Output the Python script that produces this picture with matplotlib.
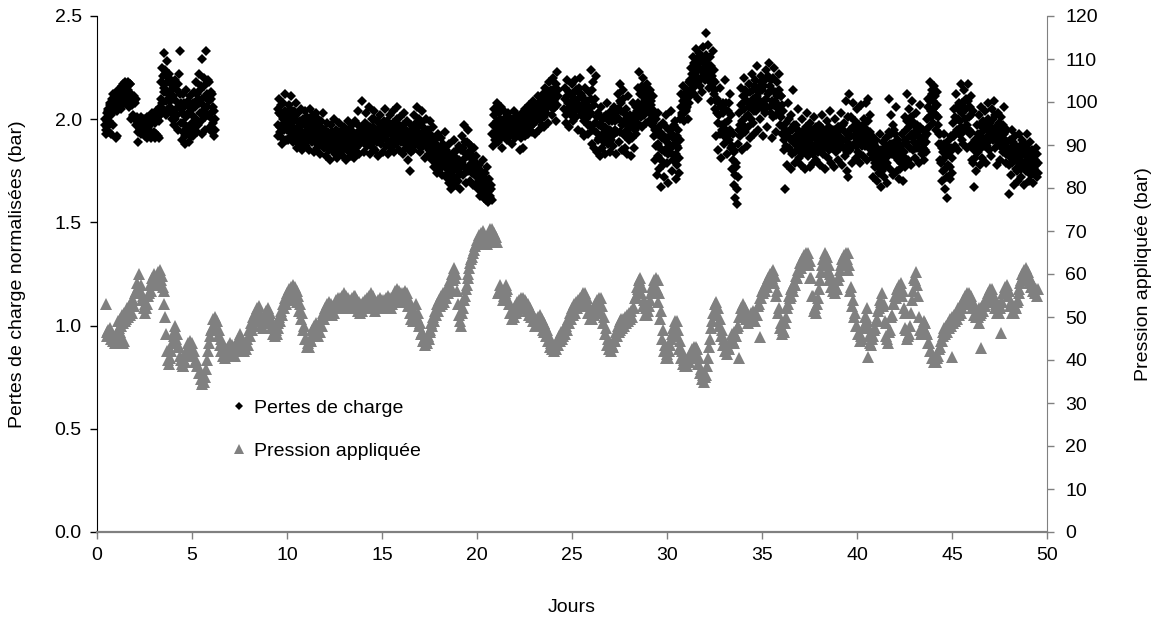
import numpy as np
import matplotlib
matplotlib.use("Agg")
import matplotlib.pyplot as plt
from matplotlib.lines import Line2D

plt.rcParams['font.family'] = ['Liberation Sans', 'DejaVu Sans']

# ---------------- Data ----------------
# Pertes de charge normalisées (bar), two interleaved reading sets, each every 0.05 day
pas_pertes = 0.05
pertes_debut_1 = 0.40
pertes_1 = [
    1.97, 1.95, 2.03, 1.96, 2.05, 1.99, 2.08, 1.93, 2.06, 2.12, 2.04, 2.08,
    2.06, 1.92, 2.07, 2.12, 2.08, 2.15, 2.07, 2.17, 2.09, 2.18, 2.09, 2.17, 2.10, 2.18, 2.10, 2.17, 2.00, 2.10, 2.01, 2.11,
    2.00, 2.10, 1.99, 1.89, 2.00, 1.95, 2.01, 1.94, 1.99, 1.93, 2.00, 1.92, 1.99, 1.91, 2.00, 1.92, 2.01, 1.91, 2.03, 1.92,
    2.00, 1.91, 2.04, 1.92, 2.01, 1.91, 2.02, 2.10, 2.25, 2.05, 2.32, 2.15, 2.22, 2.02, 2.28, 2.12, 2.20, 2.06, 2.17, 2.00,
    2.10, 1.97, 2.19, 2.05, 2.14, 1.95, 2.22, 2.33, 2.08, 1.90, 2.12, 1.98, 2.06, 1.88, 2.14, 1.93, 2.03, 1.89, 2.11, 1.96,
    2.05, 1.92, 2.13, 1.98, 2.18, 1.94, 2.10, 2.22, 2.03, 2.16, 1.93, 2.29, 2.07, 2.20, 1.95, 2.33, 2.12, 2.02, 2.18, 1.96,
    2.10, 1.94, 2.06, 1.92, 2.00,
]
pertes_debut_1b = 0.425
pertes_1b = [
    2.00, 1.93, 1.99, 2.04, 1.94, 2.07, 2.02, 2.10, 1.97, 2.05, 2.09, 1.91,
    2.10, 2.04, 2.14, 2.09, 2.12, 2.05, 2.16, 2.10, 2.13, 2.08, 2.16, 2.11, 2.14, 2.06, 2.17, 2.12, 2.07, 2.02, 2.09, 2.00,
    2.08, 1.97, 2.01, 1.94, 1.98, 2.00, 1.93, 1.97, 2.00, 1.95, 1.98, 1.94, 2.01, 1.96, 1.92, 1.99, 1.94, 1.98, 1.93, 2.00,
    1.94, 1.98, 1.93, 2.00, 1.92, 1.99, 2.06, 2.18, 2.08, 2.21, 2.13, 2.24, 2.09, 2.18, 2.05, 2.22, 2.09, 2.14, 2.03, 2.11,
    2.04, 2.15, 2.00, 2.09, 2.02, 2.17, 2.06, 2.12, 1.98, 2.03, 1.94, 2.08, 1.92, 2.01, 1.96, 2.09, 1.95, 2.06, 1.92, 2.02,
    1.98, 2.08, 1.95, 2.06, 2.00, 2.12, 1.97, 2.08, 2.14, 1.99, 2.10, 2.04, 2.16, 2.01, 2.11, 2.06, 2.19, 2.09, 2.01, 2.13,
    2.03, 2.12, 1.98, 2.04, 1.95,
]
pertes_debut_2 = 9.50
pertes_2 = [
    2.05, 1.92, 2.10, 1.96, 2.02, 1.88, 2.08, 1.95, 2.12, 1.90,
    2.00, 1.90, 2.07, 1.94, 2.11, 1.98, 1.89, 2.04, 1.93, 2.08, 1.86, 1.99, 2.03, 1.88, 1.96, 2.05, 1.85, 1.98, 1.92, 2.04,
    1.87, 2.01, 1.93, 1.85, 2.05, 1.96, 1.89, 2.02, 1.84, 1.97, 2.03, 1.90, 1.86, 2.00, 1.94, 1.83, 1.99, 1.91, 2.03, 1.86,
    1.95, 1.82, 1.98, 1.88, 1.92, 1.80, 1.97, 1.85, 1.93, 2.00, 1.83, 1.90, 1.95, 1.81, 1.87, 1.98, 1.84, 1.93, 1.89, 1.82,
    1.96, 1.86, 1.80, 1.94, 1.99, 1.84, 1.91, 1.82, 1.97, 1.88, 1.93, 1.81, 1.99, 1.86, 1.92, 2.04, 1.83, 1.95, 1.89, 2.09,
    1.90, 1.84, 1.98, 2.03, 1.87, 1.95, 2.06, 1.83, 1.93, 2.00, 1.86, 1.96, 2.04, 1.85, 1.91, 1.99, 1.82, 1.94, 2.02, 1.88,
    1.97, 1.84, 1.92, 2.05, 1.87, 1.99, 1.83, 1.94, 2.02, 1.86, 1.96, 1.90, 2.04, 1.84, 1.98, 1.88, 2.06, 1.93, 1.85, 2.01,
    1.89, 1.96, 1.83, 2.03, 1.91, 1.86, 1.99, 1.80, 1.94, 1.75, 1.88, 1.97, 1.92, 1.85, 2.02, 1.95, 1.88, 2.06, 1.90, 2.00,
    1.84, 1.98, 2.04, 1.87, 1.93, 1.81, 2.00, 1.89, 1.95, 1.83, 1.99, 1.86, 1.92, 1.80, 1.96, 1.77, 1.90, 1.85, 1.74, 1.93,
    1.82, 1.76, 1.91, 1.73, 1.86, 1.79, 1.94, 1.72, 1.84, 1.78, 1.69, 1.88, 1.75, 1.66, 1.82, 1.71, 1.90, 1.68, 1.79, 1.85,
    1.70, 1.87, 1.66, 1.78, 1.92, 1.73, 1.97, 1.81, 1.69, 1.89, 1.75, 1.95, 1.84, 1.70, 1.87, 1.79, 1.68, 1.86, 1.74, 1.82,
    1.72, 1.66, 1.78, 1.63, 1.75, 1.69, 1.80, 1.62, 1.74, 1.61, 1.77, 1.65, 1.60, 1.71, 1.62, 1.66, 1.93, 1.87, 2.02, 1.90,
    1.98, 2.08, 1.89, 2.03, 1.94, 2.06, 1.86, 1.99, 2.04, 1.92, 2.01, 1.95, 1.90, 2.03, 1.97, 1.93, 2.00, 1.88, 1.96, 2.04,
    1.91, 1.98, 2.02, 1.93, 1.99, 1.85, 1.94, 2.03, 1.86, 1.97, 1.92, 2.05, 1.95, 2.00, 1.93, 2.07, 1.96, 2.02, 1.94, 2.09,
    1.98, 1.93, 2.06, 2.00, 2.11, 1.95, 2.04, 2.09, 1.97, 2.12, 2.01, 1.96, 2.15, 2.05, 2.10, 1.98, 2.18, 2.07, 2.13, 2.02,
    2.20, 2.09, 2.15, 1.99, 2.23, 2.11,
]
pertes_debut_2b = 9.525
pertes_2b = [
    1.97, 2.03, 1.94, 2.07, 1.91, 2.00, 1.98, 2.04, 1.96, 2.02,
    1.95, 2.02, 1.97, 2.05, 1.92, 2.01, 1.96, 1.91, 2.00, 1.95, 1.93, 1.90, 1.96, 1.99, 1.91, 1.94, 2.00, 1.91, 1.97, 1.89,
    1.94, 1.91, 1.98, 1.95, 1.90, 1.93, 1.99, 1.94, 1.92, 1.89, 1.95, 1.98, 1.93, 1.90, 1.88, 1.96, 1.92, 1.87, 1.95, 1.91,
    1.89, 1.92, 1.86, 1.94, 1.85, 1.90, 1.88, 1.94, 1.87, 1.91, 1.93, 1.86, 1.89, 1.92, 1.94, 1.89, 1.91, 1.85, 1.95, 1.90,
    1.88, 1.92, 1.94, 1.87, 1.90, 1.95, 1.86, 1.93, 1.89, 1.94, 1.85, 1.91, 1.93, 1.89, 1.97, 1.92, 1.88, 1.91, 1.96, 1.94,
    1.95, 1.91, 1.93, 1.89, 1.97, 1.90, 1.92, 1.96, 1.88, 1.94, 1.91, 2.00, 1.93, 1.95, 1.89, 1.93, 1.98, 1.89, 1.96, 1.93,
    1.91, 1.95, 1.99, 1.92, 1.94, 1.90, 1.96, 1.89, 1.97, 1.93, 1.89, 1.98, 1.94, 1.91, 1.95, 2.00, 1.92, 1.97, 1.90, 1.94,
    1.93, 1.90, 1.97, 1.92, 1.88, 1.95, 1.91, 1.86, 1.89, 1.93, 1.84, 1.91, 1.87, 1.94, 1.90, 1.98, 1.93, 1.96, 1.87, 1.93,
    1.91, 1.93, 1.88, 1.96, 1.90, 1.94, 1.87, 1.92, 1.89, 1.85, 1.93, 1.88, 1.83, 1.90, 1.85, 1.88, 1.82, 1.79, 1.87, 1.80,
    1.86, 1.81, 1.84, 1.79, 1.88, 1.83, 1.77, 1.85, 1.80, 1.74, 1.82, 1.76, 1.80, 1.73, 1.77, 1.84, 1.76, 1.81, 1.72, 1.77,
    1.76, 1.80, 1.74, 1.85, 1.79, 1.86, 1.77, 1.89, 1.83, 1.76, 1.82, 1.88, 1.78, 1.83, 1.74, 1.80, 1.77, 1.73, 1.79, 1.76,
    1.69, 1.74, 1.67, 1.71, 1.65, 1.70, 1.66, 1.72, 1.67, 1.70, 1.64, 1.69, 1.65, 1.63, 1.68, 1.61, 1.97, 2.05, 1.94, 1.98,
    1.93, 1.99, 1.96, 1.90, 2.00, 1.93, 1.97, 1.92, 1.96, 1.99, 1.94, 1.99, 1.96, 1.92, 1.99, 1.96, 1.93, 2.00, 1.92, 1.97,
    1.95, 1.92, 1.96, 1.99, 1.94, 1.97, 1.91, 1.98, 1.95, 2.01, 1.96, 1.98, 1.93, 2.03, 1.98, 1.99, 2.04, 1.97, 2.06, 2.00,
    2.04, 2.02, 1.99, 2.05, 2.03, 2.08, 2.00, 2.03, 2.06, 2.04, 2.08, 2.06, 2.03, 2.09, 2.13, 2.07, 2.11, 2.14, 2.06, 2.10,
    2.05, 2.13, 2.06, 2.17, 2.07, 2.14,
]
pertes_debut_3 = 24.60
pertes_3 = [
    2.05, 2.15, 1.98, 2.19, 2.08, 1.96, 2.12, 2.03,
    2.17, 1.99, 2.10, 2.19, 2.01, 2.14, 1.95, 2.07, 2.20, 2.02, 1.94, 2.11, 2.05, 1.92, 2.15, 2.00, 2.09, 1.93, 2.13, 1.97,
    2.24, 1.88, 2.18, 1.86, 2.10, 2.21, 1.84, 2.03, 1.91, 1.82, 1.97, 2.06, 1.86, 1.93, 2.01, 1.83, 1.95, 2.08, 1.88, 1.99,
    1.84, 2.04, 1.92, 1.87, 2.06, 1.95, 1.83, 2.00, 2.12, 1.89, 2.17, 1.94, 2.08, 1.85, 2.14, 1.98, 1.86, 2.05, 1.83, 2.11,
    1.90, 2.02, 1.82, 1.96, 2.08, 1.86, 2.00, 1.93, 2.04, 2.15, 1.97, 2.23, 2.06, 2.12, 1.96, 2.20, 2.02, 2.10, 1.98, 2.17,
    2.05, 1.99, 2.14, 2.07, 1.97, 2.11, 1.92, 1.80, 2.00, 1.73, 1.88, 2.03, 1.76, 1.94, 1.67, 1.85, 1.98, 1.72, 1.90, 2.02,
    1.79, 1.69, 1.95, 1.84, 2.04, 1.75, 1.91, 1.82, 1.99, 1.71, 1.87, 1.78, 1.95, 1.74, 2.00, 2.12, 2.03, 2.16, 1.99, 2.10,
    2.05, 2.14, 2.00, 2.18, 2.11, 2.25, 2.15, 2.30, 2.12, 2.21, 2.34, 2.17, 2.26, 2.10, 2.32, 2.19, 2.24, 2.13, 2.35, 2.20,
    2.28, 2.42, 2.23, 2.36, 2.15, 2.30, 2.09, 2.21, 2.33, 2.12, 2.05, 2.18, 1.92, 2.10, 1.85, 2.02, 2.15, 1.81, 1.97, 2.08,
    1.88, 2.19, 1.95, 1.83, 2.04, 1.90, 2.12, 1.86, 1.76, 1.93, 1.68, 1.84, 1.62, 1.79, 1.59, 1.88, 2.03, 1.92, 2.15, 1.85,
    2.08, 2.20, 1.94, 2.12, 1.87, 2.02, 2.17, 1.91, 2.06, 2.22, 1.98, 2.10, 1.93, 2.19, 2.04, 2.26, 1.95, 2.13, 2.00, 2.21,
    2.08, 1.92, 2.16, 2.03, 2.24, 1.96, 2.12, 2.27, 2.06, 2.19, 1.91, 2.14, 2.01, 2.25, 2.09, 1.94, 2.18, 2.05, 2.22, 1.97,
    2.11, 1.93, 2.04, 1.85, 1.66, 1.98, 1.78, 2.08, 1.86, 1.95, 1.76, 2.02, 1.83, 2.14, 1.90, 1.79, 1.97, 1.87, 2.05, 1.81,
    1.93, 1.78, 2.00, 1.86, 1.95, 1.76, 1.89, 2.03, 1.82, 1.92, 1.77, 1.98, 1.85, 1.91, 1.79, 2.01, 1.87, 1.80, 1.94, 1.84,
    1.97, 1.78, 1.90, 2.02, 1.83, 1.94, 1.76, 1.88, 1.99, 1.81, 1.92, 1.85, 2.04, 1.79, 1.95, 1.87, 1.77, 2.00, 1.84, 1.91,
    1.80, 1.96, 1.86, 2.03, 1.78, 1.90, 1.98, 1.82, 2.09, 1.75, 1.93, 1.72, 2.12, 1.85, 2.01, 1.79, 2.08, 1.88, 1.96, 1.81,
    2.05, 1.84, 1.97, 1.79, 2.07, 1.90, 1.82, 2.00, 1.87, 2.08, 1.80, 1.95, 2.10, 1.86, 2.02, 1.83, 1.92, 1.72, 1.88, 1.77,
    1.90, 1.70, 1.84, 1.74, 1.93, 1.67, 1.81, 1.89, 1.72, 1.86, 1.78, 1.91, 1.69, 1.85, 2.10, 1.76, 2.02, 1.88, 1.73, 1.95,
    1.82, 2.06, 1.75, 1.90, 1.71, 1.86, 1.79, 1.93, 1.70, 1.84, 1.77, 2.01, 1.89, 2.12, 1.80, 2.05, 1.92, 1.78, 2.09, 1.85,
    1.97, 1.81, 2.03, 1.88, 1.94, 1.79, 2.07, 1.90, 1.83, 1.95, 1.80, 1.88, 1.92, 1.84, 2.00, 2.10, 1.96, 2.18, 2.04, 2.12,
    1.98, 2.16, 2.06, 1.95, 2.13, 2.01, 1.93, 1.80, 1.88, 1.70, 1.84, 1.75, 1.93, 1.66, 1.82, 1.62, 1.78, 1.90, 1.71, 1.86,
    1.74, 1.92, 2.05, 1.87, 2.12, 1.95, 1.85, 2.08, 1.99, 2.17, 1.90, 2.03, 1.88, 2.14, 1.96, 2.10, 1.86, 2.17, 2.01, 1.93,
    2.11, 1.80, 2.04, 1.67, 1.90, 1.75, 1.97, 1.84, 2.02, 1.78, 1.92, 2.06, 1.81, 1.99, 1.87, 2.04, 1.79, 1.95, 2.08, 1.85,
    1.98, 1.82, 2.05, 1.90, 2.09, 1.86, 1.96, 1.78, 2.03, 1.88, 1.94, 1.80, 2.01, 1.91, 1.84, 2.06, 1.87, 1.79, 1.95, 1.86,
    1.64, 1.90, 1.73, 1.95, 1.80, 1.68, 1.92, 1.76, 1.85, 1.70, 1.93, 1.79, 1.87, 1.72, 1.90, 1.83, 1.68, 1.88, 1.75, 1.93,
    1.81, 1.70, 1.89, 1.77, 1.85, 1.69, 1.82, 1.74, 1.86, 1.72, 1.79,
]
pertes_debut_3b = 24.625
pertes_3b = [
    2.10, 2.02, 2.11, 2.04, 2.13, 2.06, 2.02, 2.09,
    2.06, 2.12, 2.04, 2.08, 2.14, 2.05, 2.10, 2.15, 2.06, 2.12, 2.03, 2.07, 1.99, 2.09, 2.02, 2.07, 1.97, 2.05, 2.02, 2.10,
    2.03, 2.14, 1.95, 2.07, 1.98, 1.94, 2.01, 1.90, 1.97, 2.01, 1.92, 1.96, 2.00, 1.89, 1.96, 2.02, 1.91, 1.95, 2.01, 1.93,
    1.95, 1.90, 1.99, 2.01, 1.93, 1.99, 2.03, 1.94, 2.05, 2.00, 2.09, 2.04, 1.97, 2.10, 2.03, 1.92, 2.00, 1.95, 1.99, 1.93,
    1.96, 1.92, 2.00, 1.91, 1.97, 2.02, 1.95, 2.06, 1.98, 2.08, 2.04, 2.12, 2.01, 2.16, 2.08, 2.13, 2.05, 2.15, 2.07, 2.11,
    2.09, 2.13, 2.03, 2.09, 2.02, 1.98, 2.04, 1.95, 1.87, 1.93, 1.82, 1.96, 1.86, 1.80, 1.91, 1.78, 1.92, 1.84, 1.96, 1.86,
    1.91, 1.83, 1.88, 1.95, 1.86, 1.93, 1.80, 1.97, 1.88, 1.83, 1.92, 1.86, 1.81, 1.90, 2.06, 2.02, 2.09, 2.06, 2.12, 2.04,
    2.10, 2.06, 2.13, 2.08, 2.19, 2.14, 2.22, 2.18, 2.27, 2.16, 2.23, 2.29, 2.20, 2.27, 2.16, 2.24, 2.30, 2.21, 2.27, 2.25,
    2.19, 2.31, 2.27, 2.20, 2.25, 2.18, 2.26, 2.15, 2.19, 2.24, 2.14, 2.09, 2.03, 1.98, 2.08, 1.93, 2.06, 1.95, 2.03, 1.92,
    2.05, 1.98, 2.08, 1.92, 1.99, 2.08, 1.95, 2.02, 1.87, 1.80, 1.85, 1.73, 1.77, 1.66, 1.72, 1.95, 1.97, 2.07, 1.99, 2.11,
    1.97, 2.05, 2.14, 2.01, 2.09, 1.96, 2.06, 2.13, 2.00, 2.08, 2.14, 2.04, 2.16, 2.07, 2.11, 2.15, 2.06, 2.09, 2.18, 2.07,
    2.14, 2.05, 2.09, 2.19, 2.10, 2.06, 2.21, 2.13, 2.16, 2.03, 2.09, 2.20, 2.07, 2.13, 2.02, 2.11, 2.07, 2.14, 2.04, 2.11,
    2.01, 2.07, 1.96, 1.90, 1.93, 1.87, 1.94, 1.92, 2.00, 1.85, 1.90, 1.95, 1.89, 1.97, 1.84, 1.92, 1.88, 1.95, 1.90, 1.93,
    1.86, 1.91, 1.83, 1.92, 1.88, 1.84, 1.96, 1.90, 1.94, 1.86, 1.90, 1.88, 1.95, 1.83, 1.92, 1.87, 1.96, 1.90, 1.86, 1.92,
    1.87, 1.91, 1.96, 1.85, 1.90, 1.86, 1.93, 1.95, 1.87, 1.90, 1.96, 1.88, 1.92, 1.86, 1.91, 1.95, 1.89, 1.93, 1.87, 1.96,
    1.89, 1.88, 1.95, 1.91, 1.87, 1.97, 1.86, 1.94, 1.90, 1.84, 2.01, 1.88, 1.95, 1.92, 1.87, 1.96, 1.92, 1.99, 1.87, 1.92,
    1.94, 1.90, 1.88, 1.96, 1.93, 1.87, 1.97, 1.91, 1.95, 1.89, 1.93, 1.99, 1.90, 1.94, 1.89, 1.86, 1.81, 1.85, 1.79, 1.83,
    1.80, 1.86, 1.77, 1.82, 1.79, 1.85, 1.75, 1.80, 1.83, 1.77, 1.84, 1.79, 1.82, 1.94, 1.88, 1.93, 1.83, 1.97, 1.86, 1.89,
    1.93, 1.84, 1.88, 1.80, 1.82, 1.76, 1.87, 1.79, 1.82, 1.78, 1.90, 1.95, 1.99, 1.87, 1.96, 1.86, 2.01, 1.93, 1.91, 1.98,
    1.89, 1.94, 1.86, 1.97, 1.86, 1.92, 1.96, 1.85, 1.89, 1.86, 1.91, 1.85, 1.89, 1.93, 2.06, 2.01, 2.09, 2.01, 2.14, 2.05,
    2.09, 2.03, 2.11, 2.02, 2.07, 1.97, 1.88, 1.93, 1.79, 1.86, 1.80, 1.88, 1.76, 1.85, 1.72, 1.83, 1.86, 1.77, 1.92, 1.81,
    1.85, 1.98, 1.92, 2.01, 1.94, 2.06, 2.00, 1.93, 2.04, 1.96, 2.08, 1.94, 2.06, 2.00, 2.05, 1.97, 2.09, 1.95, 2.06, 2.02,
    1.94, 1.88, 1.79, 1.85, 1.81, 1.90, 1.86, 1.93, 1.88, 1.97, 1.86, 1.94, 1.90, 1.88, 1.96, 1.91, 1.87, 2.00, 1.92, 1.95,
    1.90, 1.96, 1.93, 2.00, 1.94, 2.02, 1.90, 1.94, 1.92, 1.98, 1.87, 1.95, 1.89, 1.97, 1.93, 1.90, 1.83, 1.89, 1.85, 1.82,
    1.78, 1.84, 1.86, 1.79, 1.89, 1.83, 1.80, 1.87, 1.75, 1.86, 1.81, 1.84, 1.76, 1.86, 1.79, 1.77, 1.83, 1.79, 1.86, 1.80,
    1.75, 1.84, 1.80, 1.73, 1.78, 1.81, 1.76, 1.80, 1.78, 1.83, 1.74,
]

# Pression appliquée (bar), two interleaved reading sets, each every 0.1 day
pas_pression = 0.1
pression_debut_1 = 0.5
pression_1 = [45.5, 47, 47.5, 46, 44.5, 45, 47, 46.5, 45, 44.5]
pression_debut_1b = 0.55
pression_1b = [46.5, 46, 45, 44.5, 44, 45.5, 45, 44.5, 44]
pression_debut_2 = 1.1
pression_2 = [
    49, 49.5, 50.5, 51, 51, 52, 52.5, 53.5, 54,
    55.5, 58, 60, 57.5, 55, 53, 52, 55, 57.5, 59,
    60, 59, 60.5, 61, 59.5, 56, 50, 42, 39, 42,
    46, 48, 46, 43, 40, 38.5, 40, 42, 44, 44.5,
    44, 42, 40, 38.5, 37, 35.5, 34.8, 36, 40, 44,
    47, 49.5, 50, 49, 47, 45, 44, 43, 42.5, 43,
    44, 43.5, 43, 43.5, 45, 46, 45, 44, 44, 45,
    47, 48.5, 50, 51, 52, 52.5, 51, 49.5, 50, 51.5,
    52, 51, 49, 47.5, 47, 48.5, 50, 51.5, 53, 54.5,
    55.5, 56.5, 57, 57.5, 57, 56, 55, 53, 51, 48,
    45, 44, 45, 47, 48, 48.5, 47.5, 48, 49.5, 51,
    52, 53, 53.5, 53, 52.5, 53, 54, 54.5, 54.5, 55,
    55.5, 55, 54.5, 54, 54.5, 55, 55, 54, 53.5, 53,
    53.5, 54, 54.5, 55, 55.5, 55, 54, 53.5, 54, 54.5,
    54, 54, 54.5, 55, 54.5, 54.5, 55, 56, 56.5, 56,
    55.5, 55.5, 56, 55.5, 54, 52.5, 51, 50.5, 53, 51,
    48.5, 46.5, 45, 44.5, 45.5, 47, 48.5, 50, 51.5, 53,
    54, 55, 55.5, 56, 56.5, 57.5, 58.5, 60, 61.5, 60,
    53, 49, 51, 54, 56.5, 59, 61.5, 63.5, 65, 66.5,
    68, 69, 69.5, 70, 68.5, 68, 69, 70.5, 70.5, 69.5,
    68.5,
]
pression_debut_2b = 1.15
pression_2b = [
    47.5, 48, 48.5, 49, 49.5, 50, 50.5, 51, 52.5,
    56, 57, 56, 54, 52, 51, 53, 55.5, 56, 57.5,
    57.5, 57.5, 58, 58.5, 57, 53, 46, 40, 40.5, 44,
    45.5, 45, 43, 41, 39, 38.5, 39.5, 41, 42, 42,
    41, 39.5, 38.5, 37, 35.5, 34.5, 34.8, 38, 42, 45.5,
    47.5, 48, 47, 45.5, 43.5, 42, 41, 40.5, 41, 41.5,
    42, 41.5, 41, 42, 43, 43.5, 42.5, 42, 42.5, 43.5,
    45.5, 47, 48, 49, 50, 49.5, 48, 47.5, 48.5, 49.5,
    49.5, 47.5, 46, 45.5, 46, 47.5, 49, 50.5, 52, 53,
    54, 55, 55, 55, 54.5, 53.5, 51.5, 49.5, 47, 45,
    43, 43, 44.5, 45.5, 46, 45.5, 45.5, 46.5, 48, 49.5,
    50.5, 51, 51, 50.5, 51, 52, 52.5, 52, 52.5, 53,
    53, 52.5, 52, 52, 52.5, 53, 52, 51.5, 51, 51.5,
    52, 52, 52.5, 53, 53, 52, 51.5, 52, 52, 52,
    52, 52.5, 53, 52.5, 52, 53, 53.5, 54, 54, 53.5,
    53.5, 53.5, 53.5, 52.5, 51, 49.5, 49, 51, 50, 48,
    46, 44.5, 43.5, 44, 45, 46.5, 48, 49, 50.5, 51.5,
    52.5, 53, 53.5, 54.5, 55.5, 56.5, 57, 58.5, 59, 56,
    50.5, 48, 52, 55, 57.5, 60, 62.5, 64, 65.5, 67,
    68, 67.5, 68, 67.5, 67, 67, 68, 68.5, 68, 67.5,
    67.5,
]
pression_debut_3 = 21.1
pression_3 = [
    55.5, 57.5, 56, 55, 57.5, 56.5, 53, 51, 51.5,
    52.5, 53.5, 54, 54.5, 54.5, 54, 53.5, 53, 52, 51,
    50, 49.5, 50, 50.5, 49.5, 48.5, 48, 47, 45.5, 44,
    43.5, 43.5, 44.5, 45.5, 46.5, 47, 47.5, 48, 49.5, 51,
    52, 53, 53.5, 54, 54.5, 55, 55.5, 55.5, 54.5, 52.5,
    51, 51.5, 53, 54, 54.5, 54.5, 52.5, 50, 47.5, 45,
    44, 43.5, 45, 46.5, 48, 49, 49.5, 49.5, 50, 50.5,
    51, 51.5, 52, 54.5, 57, 58.5, 59, 57, 54, 52,
    51.5, 54, 57, 58.5, 59, 58.5, 55.5, 51.5, 47, 43.5,
    41.5, 42, 45, 47.5, 49, 49, 47, 44.5, 42, 40,
    39.5, 40, 41.5, 42.5, 43, 43, 42.5, 40.5, 38, 36.5,
    36, 38.5, 43, 47.5, 51, 53, 53.5, 52, 49.5, 47,
    45, 43.5, 43, 44.5, 46, 46.5, 45.5, 47.5, 50, 52,
    53, 52, 50.5, 50, 51, 51.5, 51, 50.5, 52.5, 54.5,
    56, 57, 58, 59, 60, 60.5, 61, 59.5, 56, 52,
    48.5, 47, 48.5, 52, 55, 56.5, 57, 58, 59.5, 61,
    62.5, 63.5, 64.5, 65, 65, 63, 59, 55, 52, 53,
    56.5, 60.5, 63.5, 65, 64, 62, 60, 58.5, 57.5, 57,
    58.5, 61, 63.5, 64.5, 65, 65, 62, 57, 54, 51,
    48, 46, 45.5, 47.5, 50, 52, 48, 44, 45, 47,
    49, 51.5, 54, 55.5, 53, 48.5, 45, 46.5, 50, 53,
    55, 56.5, 57.5, 58, 56, 51, 47, 45.5, 48, 54,
    59, 60.5, 55, 47, 46.5, 49, 48.5, 46, 44, 42,
    40.5, 39.5, 40.5, 42.5, 44.5, 46.5, 47.5, 48, 48.5, 49.5,
    50, 50.5, 51, 52, 52.5, 53, 54, 55, 55.5, 55.5,
    55, 53.5, 52, 51.5, 52, 52, 52.5, 53, 54.5, 55.5,
    56.5, 56.5, 55, 53, 52.5, 52.5, 53.5, 55.5, 57, 57.5,
    56, 53.5, 52.5, 52.5, 53.5, 55.5, 58, 60, 61, 61.5,
    60.5, 59, 58, 57, 56.5, 56.5,
]
pression_debut_3b = 21.15
pression_3b = [
    56, 55.5, 54, 55.5, 56, 54, 51, 49.5, 50,
    51, 51.5, 52.5, 52.5, 52.5, 52, 51.5, 50.5, 50, 49,
    48, 48, 48.5, 48, 47, 46.5, 45.5, 44.5, 43, 42.5,
    42, 42.5, 43.5, 44.5, 45, 45.5, 46, 47, 48.5, 49.5,
    50.5, 51, 52, 52.5, 53, 53.5, 53.5, 53, 51, 49.5,
    49.5, 50.5, 51.5, 52.5, 52.5, 51, 48.5, 46, 43.5, 42.5,
    42, 43, 44.5, 45.5, 46.5, 47, 47.5, 48, 48.5, 49,
    49.5, 50, 52, 55, 56.5, 57, 55.5, 52.5, 50.5, 50.5,
    52.5, 55.5, 56.5, 57, 56.5, 53.5, 49.5, 45, 42, 40.5,
    40.5, 43.5, 46, 47, 47.5, 45.5, 42.5, 40.5, 39, 38.5,
    38.5, 39.5, 40.5, 41, 41.5, 41, 39, 37, 35.5, 35,
    36.5, 40.5, 45, 49, 51, 51.5, 50.5, 48, 45.5, 43.5,
    42, 41.5, 42.5, 44, 44.5, 44, 45.5, 48, 50, 51,
    51, 49.5, 48.5, 49, 49.5, 49.5, 49, 50.5, 53, 54.5,
    55.5, 56, 57, 58, 58.5, 59, 58, 55, 51, 47.5,
    46, 46.5, 50, 53, 54.5, 55, 56, 57.5, 59, 60.5,
    61.5, 62.5, 63, 63.5, 62, 59, 55, 51.5, 51, 54.5,
    58.5, 62, 63.5, 63, 61, 58.5, 57, 56, 55.5, 56.5,
    59.5, 62, 63, 63.5, 63.5, 61, 56, 52.5, 50, 48,
    46, 44.5, 45, 48, 50, 49, 45.5, 43.5, 45.5, 47.5,
    49.5, 52, 53.5, 52.5, 49, 45.5, 44, 47, 50.5, 53,
    54.5, 55.5, 56, 55, 52, 47.5, 45, 46, 51, 56,
    58.5, 57.5, 50, 46, 47.5, 47.5, 46.5, 44, 42, 40.5,
    39.5, 39.5, 41, 43, 44.5, 45.5, 46, 46.5, 47.5, 48,
    48.5, 49, 49.5, 50.5, 51, 52, 53, 53.5, 54, 53.5,
    52, 50.5, 50, 50, 50.5, 51, 51.5, 52.5, 53.5, 54.5,
    55, 53.5, 52, 51, 51, 52, 53.5, 55.5, 56, 55,
    52.5, 51, 51, 52, 54, 56.5, 58.5, 59.5, 60, 59.5,
    58, 57, 56, 55.5, 55,
]
# isolated pressure readings
pression_isolee_jours = [0.45, 33.8, 34.9, 40.6, 45.0, 46.4, 46.5, 47.6]
pression_isolee = [53, 40.5, 45.3, 40.7, 40.7, 48.6, 42.8, 46.3]

x_ticks = [0, 5, 10, 15, 20, 25, 30, 35, 40, 45, 50]
y_left_ticks = [0.0, 0.5, 1.0, 1.5, 2.0, 2.5]
y_right_ticks = list(range(0, 121, 10))

# ---------------- Build series ----------------
def series(start, step, vals):
    vals = np.asarray(vals, dtype=float)
    return start + step * np.arange(len(vals)), vals

def gather(parts, step):
    xs, ys = [], []
    for s, v in parts:
        x, y = series(s, step, v)
        xs.append(x); ys.append(y)
    return np.concatenate(xs), np.concatenate(ys)

pt_x, pt_y = gather([(pertes_debut_1, pertes_1), (pertes_debut_1b, pertes_1b),
                     (pertes_debut_2, pertes_2), (pertes_debut_2b, pertes_2b),
                     (pertes_debut_3, pertes_3), (pertes_debut_3b, pertes_3b)], pas_pertes)
pr_x, pr_y = gather([(pression_debut_1, pression_1), (pression_debut_1b, pression_1b),
                     (pression_debut_2, pression_2), (pression_debut_2b, pression_2b),
                     (pression_debut_3, pression_3), (pression_debut_3b, pression_3b)], pas_pression)
pr_x = np.concatenate([pr_x, pression_isolee_jours])
pr_y = np.concatenate([pr_y, pression_isolee])

# ---------------- Plot ----------------
W, H = 1164, 625
fig = plt.figure(figsize=(W / 100, H / 100), dpi=100)
L, R, T, B = 97, 1047, 16, 532
ax = fig.add_axes([L / W, 1 - B / H, (R - L) / W, (B - T) / H])
ax2 = ax.twinx()

GRAY = '#808080'
FS = 14
MS_D = 5.4
MS_T = 8.0

ax.plot(pt_x, pt_y, linestyle='none', marker='D', markersize=MS_D,
        color='black', markeredgewidth=0)
ax2.plot(pr_x, pr_y, linestyle='none', marker='^', markersize=MS_T,
         color=GRAY, markeredgewidth=0)

ax.set_xlim(0, 50)
ax.set_ylim(0, 2.5)
ax2.set_ylim(0, 120)
ax.set_xticks(x_ticks)
ax.set_yticks(y_left_ticks)
ax.set_yticklabels([f"{v:.1f}" for v in y_left_ticks])
ax2.set_yticks(y_right_ticks)

for a in (ax, ax2):
    a.spines['top'].set_visible(False)
    a.patch.set_visible(False)
ax.spines['left'].set_color('black')
ax.spines['bottom'].set_color(GRAY)
ax.spines['bottom'].set_linewidth(1.6)
ax.spines['right'].set_visible(False)
ax2.spines['left'].set_visible(False)
ax2.spines['bottom'].set_visible(False)
ax2.spines['right'].set_color(GRAY)

ax.tick_params(axis='x', direction='out', length=5, width=1, color=GRAY,
               labelsize=FS, pad=6)
ax.tick_params(axis='y', direction='out', length=5, width=1, color='black',
               labelsize=FS, pad=6)
ax2.tick_params(axis='y', direction='out', length=5, width=1, color=GRAY,
                labelsize=FS, pad=8)

ax.set_xlabel('Jours', fontsize=FS)
ax.xaxis.set_label_coords(0.5, (B - 608) / (B - T))
ax.xaxis.label.set_verticalalignment('center')
ax.set_ylabel('Pertes de charge normalisées (bar)', fontsize=FS)
ax.yaxis.set_label_coords((18 - L) / (R - L), 0.5)
ax.yaxis.label.set_verticalalignment('center')
ax2.set_ylabel('Pression appliquée (bar)', fontsize=FS)
ax2.yaxis.set_label_coords((1143 - L) / (R - L), 0.5)
ax2.yaxis.label.set_verticalalignment('center')

handles = [
    Line2D([], [], linestyle='none', marker='D', markersize=4.5, color='black', markeredgewidth=0),
    Line2D([], [], linestyle='none', marker='^', markersize=7, color=GRAY, markeredgewidth=0),
]
fig.legend(handles, ['Pertes de charge', 'Pression appliquée'],
           loc='upper left', bbox_to_anchor=(232 / W, 1 - 399 / H),
           frameon=False, fontsize=FS, handlelength=0.7, handletextpad=0.45,
           labelspacing=1.3, borderpad=0, borderaxespad=0)

fig.savefig('out.png', dpi=100)
